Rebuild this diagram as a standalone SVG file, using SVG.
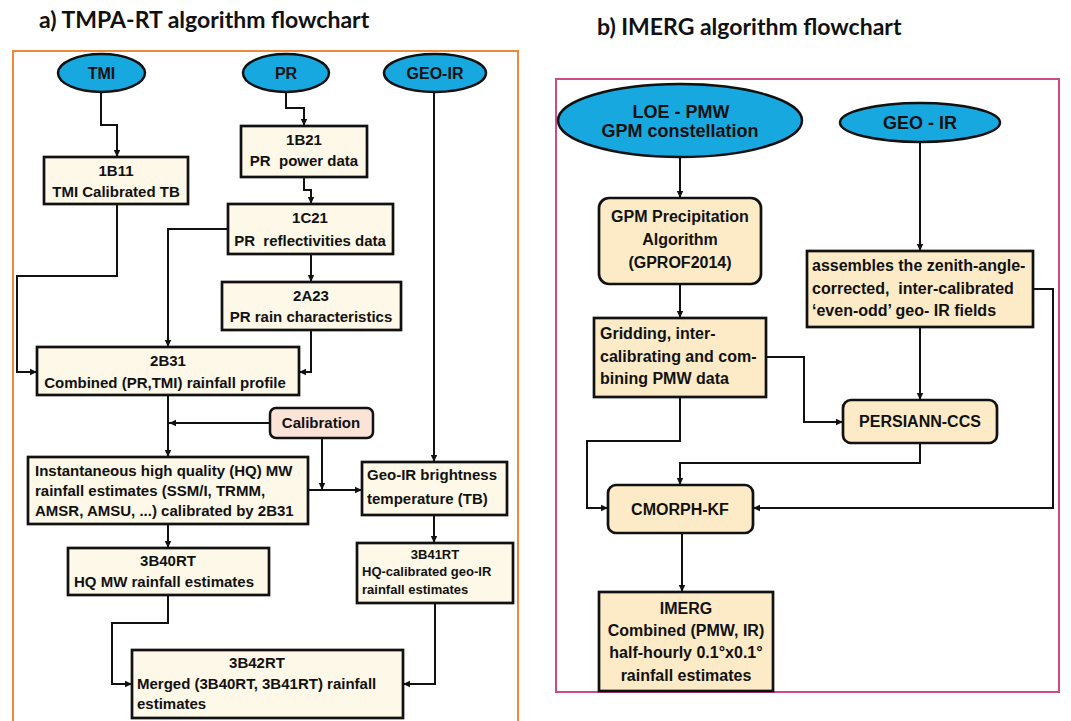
<svg xmlns="http://www.w3.org/2000/svg" width="1071" height="721" viewBox="0 0 1071 721">
<defs>
<marker id="ah" markerUnits="userSpaceOnUse" markerWidth="8" markerHeight="8" refX="7" refY="4" orient="auto">
<path d="M0,0.8 L7,4 L0,7.2 z" fill="#111"/>
</marker>
<style>
.title{font-family:Lato,"Open Sans",sans-serif;font-weight:bold;font-size:23px;fill:#111}
.t{font-family:"Liberation Sans",Arial,sans-serif;font-weight:bold;font-size:15px;fill:#111}
.ts{font-family:"Liberation Sans",Arial,sans-serif;font-weight:bold;font-size:13px;fill:#111}
.tr{font-family:"Liberation Sans",Arial,sans-serif;font-weight:bold;font-size:16px;fill:#111}
.te{font-family:"Liberation Sans",Arial,sans-serif;font-weight:bold;font-size:16px;fill:#111}
.tel{font-family:"Liberation Sans",Arial,sans-serif;font-weight:bold;font-size:18px;fill:#111}
.c{text-anchor:middle}
.ell{fill:#17a8e0;stroke:#111;stroke-width:2.5}
.box{fill:#fdf8e7;stroke:#111;stroke-width:2.7}
.boxr{fill:#fcebc6;stroke:#111;stroke-width:2.7}
.cal{fill:#fbe3d8;stroke:#111;stroke-width:2.5}
.conn path{fill:none;stroke:#111;stroke-width:2}
.arr{marker-end:url(#ah)}
</style>
</defs>
<rect width="1071" height="721" fill="#ffffff"/>
<text class="title" x="39" y="28">a) TMPA-RT algorithm flowchart</text>
<text class="title" x="597" y="35">b) IMERG algorithm flowchart</text>
<rect x="13" y="51" width="505" height="675" fill="none" stroke="#f0883a" stroke-width="2"/>
<rect x="556" y="79" width="503" height="613" fill="none" stroke="#cc4a86" stroke-width="2"/>

<g class="conn" id="connectors">
<path class="arr" d="M101,92 V125 H117 V157"/>
<path class="arr" d="M286,92 V108 H304 V126"/>
<path class="arr" d="M304,177 V190 H311 V204"/>
<path class="arr" d="M434,92 V462"/>
<path class="arr" d="M117,204 V276 H17 V372 H37"/>
<path class="arr" d="M228,229 H168 V347"/>
<path class="arr" d="M311,254 V282"/>
<path class="arr" d="M311,330 V372 H299"/>
<path class="arr" d="M168,395 V457"/>
<path class="arr" d="M270,423 H169"/>
<path class="arr" d="M322,438 V490"/>
<path class="arr" d="M308,490 H362"/>
<path class="arr" d="M168,524 V548"/>
<path class="arr" d="M434,515 V543"/>
<path class="arr" d="M168,595 V623 H112 V684 H132"/>
<path class="arr" d="M435,603 V684 H403"/>
<path class="arr" d="M680,157 V198"/>
<path class="arr" d="M920,142 V251"/>
<path class="arr" d="M680,284 V318"/>
<path class="arr" d="M766,357 H804 V422 H843"/>
<path class="arr" d="M920,327 V400"/>
<path class="arr" d="M920,443 V463 H680 V485"/>
<path class="arr" d="M680,397 V441 H587 V508 H608"/>
<path class="arr" d="M1033,289 H1053 V508 H753"/>
<path class="arr" d="M682,533 V592"/>
</g>

<g id="tmi"><ellipse class="ell" cx="101.5" cy="73" rx="43.5" ry="19"/><text class="te c" x="101.5" y="79">TMI</text></g>
<g id="pr"><ellipse class="ell" cx="286" cy="73" rx="43" ry="19"/><text class="te c" x="286" y="79">PR</text></g>
<g id="geoir-a"><ellipse class="ell" cx="435" cy="73" rx="51" ry="19"/><text class="te c" x="435" y="79">GEO-IR</text></g>

<g id="n1b11"><rect class="box" x="44" y="157" width="144" height="47"/>
<text class="t c" x="116" y="176">1B11</text><text class="t c" x="116" y="197">TMI Calibrated TB</text></g>
<g id="n1b21"><rect class="box" x="241" y="126" width="126" height="51"/>
<text class="t c" x="304" y="145">1B21</text><text class="t c" x="304" y="166" xml:space="preserve">PR  power data</text></g>
<g id="n1c21"><rect class="box" x="228" y="204" width="165" height="50"/>
<text class="t c" x="310" y="223">1C21</text><text class="t c" x="310" y="246" xml:space="preserve">PR  reflectivities data</text></g>
<g id="n2a23"><rect class="box" x="222" y="282" width="179" height="48"/>
<text class="t c" x="311" y="301">2A23</text><text class="t c" x="311" y="322">PR rain characteristics</text></g>
<g id="n2b31"><rect class="box" x="37" y="347" width="262" height="48"/>
<text class="t c" x="168" y="366">2B31</text><text class="t c" x="165" y="388">Combined (PR,TMI) rainfall profile</text></g>
<g id="calibration"><rect class="cal" x="270" y="408" width="103" height="30" rx="6"/>
<text class="t c" x="321" y="428">Calibration</text></g>
<g id="hq"><rect class="box" x="28" y="457" width="280" height="67"/>
<text class="t" x="35" y="476">Instantaneous high quality (HQ) MW</text>
<text class="t" x="35" y="496">rainfall estimates (SSM/I, TRMM,</text>
<text class="t" x="35" y="516">AMSR, AMSU, ...) calibrated by 2B31</text></g>
<g id="geoir-tb"><rect class="box" x="362" y="462" width="145" height="53"/>
<text class="t" x="367" y="480">Geo-IR brightness</text>
<text class="t" x="367" y="504">temperature (TB)</text></g>
<g id="n3b40rt"><rect class="box" x="68" y="548" width="201" height="47"/>
<text class="t c" x="168" y="566">3B40RT</text><text class="t c" x="164" y="587">HQ MW rainfall estimates</text></g>
<g id="n3b41rt"><rect class="box" x="357" y="543" width="156" height="60"/>
<text class="ts c" x="435" y="559">3B41RT</text>
<text class="ts" x="362" y="576">HQ-calibrated geo-IR</text>
<text class="ts" x="362" y="594">rainfall estimates</text></g>
<g id="n3b42rt"><rect class="box" x="132" y="650" width="271" height="68"/>
<text class="t c" x="257" y="668">3B42RT</text>
<text class="t" x="137" y="689">Merged (3B40RT, 3B41RT) rainfall</text>
<text class="t" x="137" y="709">estimates</text></g>

<g id="loe-pmw"><ellipse class="ell" cx="680" cy="120.5" rx="122" ry="36.5"/>
<text class="tel c" x="681" y="118">LOE - PMW</text><text class="tel c" x="680" y="137">GPM constellation</text></g>
<g id="geoir-b"><ellipse class="ell" cx="920" cy="122.5" rx="80" ry="19.5"/>
<text class="tel c" x="920" y="129">GEO - IR</text></g>
<g id="gprof"><rect class="boxr" x="599" y="198" width="162" height="86" rx="10"/>
<text class="tr c" x="680" y="222">GPM Precipitation</text>
<text class="tr c" x="680" y="245">Algorithm</text>
<text class="tr c" x="680" y="268">(GPROF2014)</text></g>
<g id="assembles"><rect class="boxr" x="807" y="251" width="226" height="76"/>
<text class="tr" x="812" y="271">assembles the zenith-angle-</text>
<text class="tr" x="812" y="294" xml:space="preserve">corrected,  inter-calibrated</text>
<text class="tr" x="812" y="316">‘even-odd’ geo- IR fields</text></g>
<g id="gridding"><rect class="boxr" x="594" y="318" width="172" height="79"/>
<text class="tr" x="600" y="339">Gridding, inter-</text>
<text class="tr" x="600" y="362">calibrating and com-</text>
<text class="tr" x="600" y="384">bining PMW data</text></g>
<g id="persiann"><rect class="boxr" x="843" y="400" width="154" height="43" rx="8"/>
<text class="tr c" x="920" y="427">PERSIANN-CCS</text></g>
<g id="cmorph"><rect class="boxr" x="608" y="485" width="145" height="48" rx="8"/>
<text class="tr c" x="680" y="515">CMORPH-KF</text></g>
<g id="imerg"><rect class="boxr" x="599" y="592" width="174" height="99"/>
<text class="tr c" x="686" y="614">IMERG</text>
<text class="tr c" x="686" y="636">Combined (PMW, IR)</text>
<text class="tr c" x="686" y="658">half-hourly 0.1°x0.1°</text>
<text class="tr c" x="686" y="681">rainfall estimates</text></g>
</svg>
